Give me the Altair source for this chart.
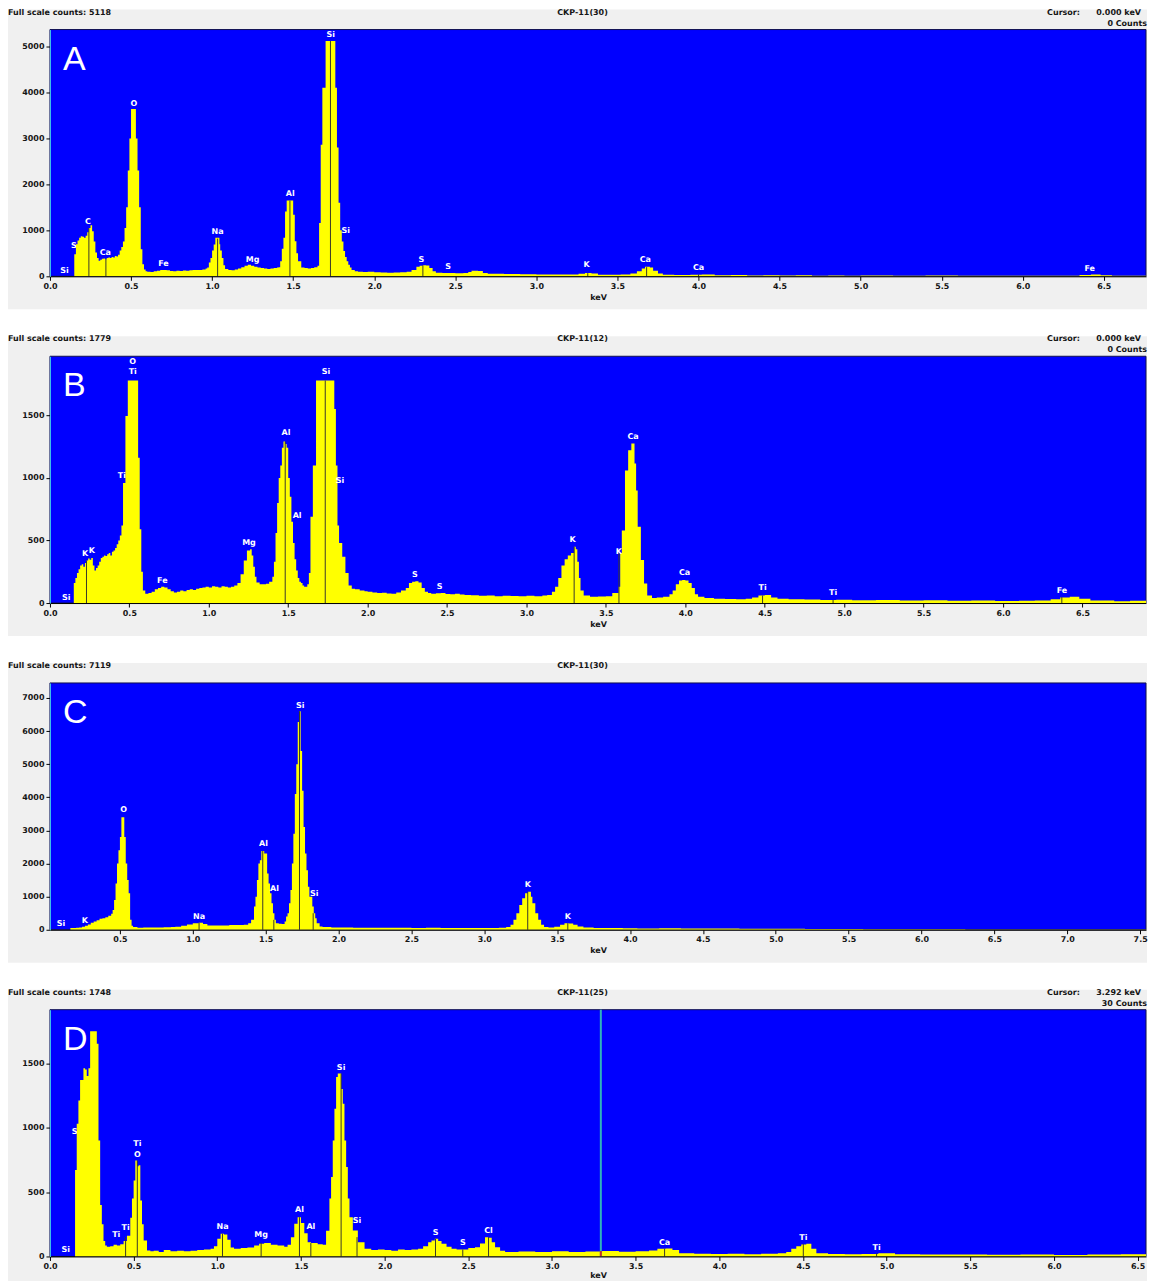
import altair as alt
import pandas as pd

W = 1097
H = 247

# ---------------- Panel A ----------------
SPEC_A = [(0.00, 0), (0.15, 480), (0.16, 700), (0.17, 780), (0.18, 840), (0.19, 870), (0.20, 860),
          (0.21, 840), (0.22, 880), (0.23, 960), (0.24, 1050), (0.25, 1110), (0.26, 980), (0.27, 760),
          (0.28, 520), (0.29, 400), (0.30, 340), (0.31, 360), (0.32, 380), (0.33, 390), (0.34, 370),
          (0.35, 400), (0.36, 410), (0.37, 400), (0.38, 420), (0.39, 410), (0.40, 440), (0.41, 430),
          (0.42, 470), (0.43, 560), (0.44, 640), (0.45, 760), (0.46, 1050), (0.47, 1500), (0.48, 2300),
          (0.49, 3000), (0.50, 3640), (0.53, 3000), (0.54, 2300), (0.55, 1500), (0.56, 590), (0.57, 260),
          (0.58, 150), (0.59, 110), (0.60, 100), (0.62, 95), (0.64, 110), (0.66, 120), (0.68, 135),
          (0.70, 140), (0.72, 130), (0.74, 115), (0.76, 110), (0.78, 120), (0.80, 115), (0.82, 125),
          (0.84, 120), (0.86, 130), (0.88, 135), (0.90, 140), (0.92, 135), (0.94, 150), (0.96, 170),
          (0.97, 190), (0.98, 300), (0.99, 400), (1.00, 560), (1.01, 690), (1.02, 840), (1.045, 700),
          (1.05, 560), (1.06, 400), (1.07, 240), (1.08, 160), (1.10, 140), (1.12, 130), (1.14, 150),
          (1.16, 170), (1.18, 200), (1.20, 230), (1.22, 250), (1.24, 230), (1.26, 210), (1.28, 190),
          (1.30, 180), (1.32, 170), (1.34, 160), (1.36, 170), (1.38, 180), (1.40, 190), (1.41, 200),
          (1.42, 330), (1.43, 600), (1.44, 840), (1.45, 1410), (1.46, 1650), (1.50, 1340), (1.51, 765),
          (1.52, 500), (1.53, 330), (1.55, 190), (1.57, 180), (1.59, 170), (1.61, 180), (1.63, 200),
          (1.65, 230), (1.66, 1160), (1.67, 2860), (1.68, 4100), (1.70, 5118), (1.76, 4100), (1.77, 2800),
          (1.78, 1600), (1.79, 1000), (1.80, 760), (1.81, 550), (1.82, 420), (1.83, 330), (1.84, 250),
          (1.85, 190), (1.86, 140), (1.88, 110), (1.90, 100), (1.93, 95), (1.96, 100), (2.00, 90),
          (2.04, 85), (2.08, 80), (2.12, 85), (2.16, 90), (2.20, 100), (2.23, 140), (2.26, 210),
          (2.28, 230), (2.30, 240), (2.32, 235), (2.34, 180), (2.36, 110), (2.38, 80), (2.42, 70),
          (2.46, 75), (2.50, 65), (2.55, 70), (2.58, 95), (2.60, 120), (2.64, 115), (2.67, 75),
          (2.70, 55), (2.80, 50), (2.90, 45), (3.00, 40), (3.10, 42), (3.20, 40), (3.26, 55),
          (3.30, 70), (3.34, 60), (3.38, 35), (3.45, 35), (3.52, 40), (3.58, 60), (3.62, 110),
          (3.65, 170), (3.67, 210), (3.70, 190), (3.72, 120), (3.75, 60), (3.78, 35), (3.85, 30),
          (3.95, 35), (4.02, 40), (4.10, 25), (4.20, 30), (4.30, 20), (4.40, 25), (4.50, 20),
          (4.60, 25), (4.70, 15), (4.80, 20), (4.90, 15), (5.00, 20), (5.20, 15), (5.40, 18),
          (5.60, 15), (5.80, 12), (6.00, 15), (6.20, 12), (6.35, 30), (6.42, 40), (6.48, 25),
          (6.55, 12), (6.76, 12)]
LABELS_A = [("Si", 0.09, 115), ("S", 0.148, 657), ("C", 0.234, 1183), ("Ca", 0.341, 498),
            ("O", 0.518, 3759), ("Fe", 0.70, 260), ("Na", 1.034, 967), ("Mg", 1.25, 361),
            ("Al", 1.482, 1789), ("Si", 1.732, 5260), ("Si", 1.825, 996), ("S", 2.29, 354),
            ("S", 2.455, 209), ("K", 3.31, 245), ("Ca", 3.672, 361), ("Ca", 4.0, 188), ("Fe", 6.413, 166)]
MARKERS_A = [(0.24, 1050), (0.345, 380), (1.034, 820), (1.48, 1650), (1.73, 5118), (2.30, 240),
             (3.317, 70), (3.68, 200), (4.0, 40)]
XTICKS_A = [0.0, 0.5, 1.0, 1.5, 2.0, 2.5, 3.0, 3.5, 4.0, 4.5, 5.0, 5.5, 6.0, 6.5]
YTICKS_A = [0, 1000, 2000, 3000, 4000, 5000]
XDOM_A = [0.0, 6.76]
YDOM_A = [0, 5368]
HEADER_A = ["Full scale counts: 5118", "CKP-11(30)", "Cursor:", "0.000 keV", "0 Counts"]

# ---------------- Panel B ----------------
SPEC_B = [(0.00, 0), (0.15, 160), (0.16, 200), (0.17, 240), (0.18, 270), (0.19, 300), (0.20, 310),
          (0.21, 290), (0.22, 320), (0.23, 340), (0.24, 355), (0.25, 345), (0.26, 360), (0.27, 300),
          (0.28, 260), (0.29, 280), (0.30, 300), (0.31, 330), (0.32, 360), (0.33, 370), (0.34, 380),
          (0.35, 375), (0.36, 390), (0.37, 400), (0.38, 380), (0.39, 410), (0.40, 420), (0.41, 440),
          (0.42, 470), (0.43, 500), (0.44, 540), (0.45, 620), (0.46, 960), (0.475, 1495), (0.49, 1779),
          (0.555, 1160), (0.565, 590), (0.575, 250), (0.585, 100), (0.60, 75), (0.62, 80), (0.64, 90),
          (0.66, 110), (0.68, 120), (0.70, 130), (0.72, 125), (0.74, 110), (0.76, 95), (0.78, 85),
          (0.80, 90), (0.82, 100), (0.84, 95), (0.86, 105), (0.88, 110), (0.90, 105), (0.92, 115),
          (0.94, 120), (0.96, 125), (0.98, 130), (1.00, 125), (1.02, 135), (1.04, 130), (1.06, 125),
          (1.08, 135), (1.10, 130), (1.12, 125), (1.14, 130), (1.16, 140), (1.18, 160), (1.20, 230),
          (1.22, 340), (1.24, 420), (1.26, 430), (1.27, 380), (1.28, 290), (1.29, 210), (1.30, 165),
          (1.32, 150), (1.34, 150), (1.36, 155), (1.38, 170), (1.40, 210), (1.41, 330), (1.42, 560),
          (1.43, 800), (1.44, 1000), (1.45, 1100), (1.46, 1240), (1.47, 1290), (1.48, 1270),
          (1.49, 1240), (1.50, 1000), (1.51, 850), (1.52, 650), (1.53, 480), (1.54, 350), (1.55, 260),
          (1.56, 200), (1.57, 170), (1.58, 160), (1.59, 140), (1.60, 130), (1.62, 150), (1.63, 240),
          (1.64, 690), (1.655, 1100), (1.675, 1779), (1.79, 1550), (1.80, 1100), (1.81, 620),
          (1.82, 480), (1.84, 370), (1.86, 240), (1.88, 140), (1.90, 115), (1.92, 110), (1.95, 100),
          (1.98, 95), (2.00, 90), (2.03, 85), (2.06, 80), (2.09, 82), (2.12, 76), (2.15, 75),
          (2.18, 85), (2.21, 100), (2.24, 120), (2.26, 160), (2.28, 170), (2.30, 175), (2.32, 165),
          (2.34, 120), (2.36, 90), (2.38, 80), (2.40, 75), (2.43, 78), (2.46, 80), (2.49, 72),
          (2.52, 70), (2.55, 75), (2.58, 68), (2.61, 65), (2.65, 62), (2.70, 58), (2.75, 60),
          (2.80, 55), (2.85, 58), (2.90, 57), (2.95, 55), (3.00, 58), (3.05, 55), (3.10, 60),
          (3.13, 65), (3.16, 90), (3.18, 130), (3.20, 200), (3.22, 300), (3.24, 350), (3.26, 380),
          (3.28, 400), (3.30, 450), (3.31, 430), (3.32, 330), (3.33, 200), (3.34, 100), (3.36, 60),
          (3.40, 50), (3.45, 52), (3.50, 55), (3.54, 80), (3.58, 130), (3.59, 400), (3.60, 580),
          (3.62, 1060), (3.64, 1220), (3.66, 1275), (3.68, 1115), (3.69, 900), (3.70, 610),
          (3.72, 343), (3.74, 157), (3.76, 60), (3.79, 40), (3.82, 45), (3.86, 50), (3.90, 70),
          (3.92, 100), (3.94, 150), (3.96, 180), (3.98, 185), (4.00, 180), (4.02, 160), (4.04, 120),
          (4.06, 70), (4.08, 50), (4.12, 40), (4.18, 35), (4.25, 33), (4.32, 30), (4.38, 35),
          (4.42, 45), (4.46, 60), (4.50, 65), (4.54, 45), (4.58, 35), (4.65, 30), (4.75, 28),
          (4.85, 25), (4.95, 27), (5.05, 22), (5.20, 25), (5.35, 20), (5.50, 22), (5.65, 18),
          (5.80, 20), (5.95, 16), (6.10, 18), (6.20, 20), (6.30, 30), (6.36, 45), (6.42, 50),
          (6.48, 35), (6.55, 20), (6.70, 15), (6.80, 18), (6.90, 14)]
LABELS_B = [("Si", 0.102, 37), ("K", 0.221, 394), ("K", 0.263, 412), ("Ti", 0.453, 1019),
            ("O", 0.521, 1929), ("Ti", 0.521, 1843), ("Fe", 0.707, 178), ("Mg", 1.253, 479),
            ("Al", 1.486, 1357), ("Al", 1.556, 692), ("Si", 1.737, 1843), ("Si", 1.826, 976),
            ("S", 2.298, 221), ("S", 2.453, 125), ("K", 3.29, 500), ("K", 3.582, 410),
            ("Ca", 3.671, 1327), ("Ca", 3.995, 237), ("Ti", 4.486, 117), ("Ti", 4.93, 77),
            ("Fe", 6.371, 98)]
MARKERS_B = [(0.23, 340), (1.481, 1290), (1.733, 1779), (3.30, 450), (3.582, 400), (4.486, 60),
             (4.93, 25), (6.37, 48)]
XTICKS_B = [0.0, 0.5, 1.0, 1.5, 2.0, 2.5, 3.0, 3.5, 4.0, 4.5, 5.0, 5.5, 6.0, 6.5]
YTICKS_B = [0, 500, 1000, 1500]
XDOM_B = [0.0, 6.90]
YDOM_B = [0, 1972]
HEADER_B = ["Full scale counts: 1779", "CKP-11(12)", "Cursor:", "0.000 keV", "0 Counts"]

# ---------------- Panel C ----------------
SPEC_C = [(0.02, 0), (0.16, 50), (0.18, 55), (0.20, 60), (0.22, 70), (0.24, 90), (0.26, 120),
          (0.28, 160), (0.30, 210), (0.32, 250), (0.34, 290), (0.36, 330), (0.38, 350), (0.40, 380),
          (0.42, 420), (0.44, 480), (0.45, 600), (0.46, 900), (0.47, 1400), (0.48, 2000), (0.49, 2400),
          (0.50, 2800), (0.51, 3400), (0.53, 2800), (0.54, 2000), (0.55, 1500), (0.56, 1100),
          (0.57, 300), (0.58, 120), (0.59, 80), (0.62, 60), (0.66, 65), (0.70, 70), (0.75, 68),
          (0.80, 75), (0.85, 80), (0.88, 90), (0.92, 120), (0.96, 160), (1.00, 200), (1.04, 210),
          (1.07, 170), (1.10, 130), (1.15, 125), (1.20, 130), (1.25, 140), (1.30, 145), (1.35, 150),
          (1.38, 200), (1.40, 300), (1.42, 700), (1.43, 1000), (1.44, 1500), (1.45, 2000),
          (1.46, 2100), (1.47, 2380), (1.49, 2300), (1.51, 1700), (1.52, 1400), (1.53, 1100),
          (1.54, 800), (1.55, 500), (1.56, 300), (1.57, 200), (1.59, 180), (1.61, 170), (1.63, 250),
          (1.64, 400), (1.65, 500), (1.66, 800), (1.67, 1200), (1.68, 2000), (1.69, 2900),
          (1.70, 4100), (1.71, 5000), (1.72, 6270), (1.73, 6600), (1.74, 5400), (1.75, 4200),
          (1.76, 3100), (1.77, 2300), (1.78, 1800), (1.79, 1300), (1.80, 1000), (1.82, 700),
          (1.83, 500), (1.84, 350), (1.85, 200), (1.87, 100), (1.89, 80), (1.95, 70), (2.00, 65),
          (2.10, 60), (2.20, 62), (2.30, 58), (2.40, 60), (2.50, 55), (2.60, 58), (2.70, 55),
          (2.80, 52), (2.90, 55), (3.00, 50), (3.10, 60), (3.15, 80), (3.18, 150), (3.20, 300),
          (3.22, 500), (3.24, 750), (3.26, 950), (3.28, 1100), (3.30, 1150), (3.32, 1000),
          (3.33, 800), (3.35, 500), (3.37, 300), (3.39, 150), (3.41, 80), (3.44, 70), (3.48, 90),
          (3.52, 150), (3.55, 200), (3.58, 190), (3.61, 150), (3.64, 100), (3.68, 70), (3.75, 55),
          (3.85, 50), (3.95, 45), (4.05, 40), (4.20, 45), (4.35, 35), (4.45, 40), (4.60, 35),
          (4.75, 30), (4.90, 32), (5.05, 28), (5.20, 25), (5.40, 22), (5.60, 18), (5.80, 15),
          (6.00, 12), (6.30, 10), (6.60, 8), (7.00, 6), (7.54, 5)]
LABELS_C = [("Si", 0.096, 170), ("K", 0.26, 271), ("O", 0.525, 3611), ("Na", 1.043, 371),
            ("Al", 1.485, 2578), ("Al", 1.56, 1233), ("Si", 1.737, 6750), ("Si", 1.833, 1073),
            ("K", 3.298, 1344), ("K", 3.573, 371)]
MARKERS_C = [(1.043, 210), (1.48, 2380), (1.556, 300), (1.732, 6600), (1.826, 500), (3.298, 1150),
             (3.573, 200)]
XTICKS_C = [0.5, 1.0, 1.5, 2.0, 2.5, 3.0, 3.5, 4.0, 4.5, 5.0, 5.5, 6.0, 6.5, 7.0, 7.5]
YTICKS_C = [0, 1000, 2000, 3000, 4000, 5000, 6000, 7000]
XDOM_C = [0.02, 7.54]
YDOM_C = [0, 7451]
HEADER_C = ["Full scale counts: 7119", "CKP-11(30)", "", "", ""]

# ---------------- Panel D ----------------
SPEC_D = [(0.00, 0), (0.15, 670), (0.16, 1030), (0.17, 1210), (0.18, 1370), (0.20, 1460),
          (0.21, 1450), (0.22, 1400), (0.23, 1460), (0.24, 1748), (0.28, 1650), (0.29, 900),
          (0.30, 400), (0.31, 250), (0.32, 120), (0.33, 85), (0.34, 75), (0.36, 80), (0.38, 90),
          (0.40, 85), (0.42, 95), (0.44, 120), (0.46, 160), (0.48, 300), (0.49, 450), (0.50, 590),
          (0.51, 745), (0.52, 700), (0.53, 707), (0.54, 435), (0.55, 250), (0.56, 124), (0.58, 47),
          (0.60, 40), (0.62, 45), (0.65, 35), (0.68, 50), (0.72, 40), (0.76, 45), (0.80, 40),
          (0.84, 45), (0.88, 50), (0.92, 55), (0.96, 60), (0.98, 80), (1.00, 137), (1.02, 176),
          (1.04, 170), (1.06, 130), (1.08, 70), (1.10, 60), (1.14, 65), (1.18, 70), (1.22, 85),
          (1.25, 98), (1.28, 105), (1.32, 90), (1.36, 85), (1.40, 75), (1.42, 90), (1.44, 150),
          (1.46, 254), (1.48, 305), (1.50, 260), (1.52, 180), (1.54, 110), (1.56, 104), (1.60, 95),
          (1.63, 90), (1.65, 200), (1.67, 450), (1.68, 616), (1.69, 900), (1.70, 1147), (1.71, 1393),
          (1.72, 1420), (1.74, 1300), (1.75, 1186), (1.76, 900), (1.77, 694), (1.78, 450),
          (1.79, 305), (1.81, 202), (1.84, 111), (1.88, 60), (1.92, 50), (1.96, 55), (2.00, 50),
          (2.04, 45), (2.08, 55), (2.12, 50), (2.16, 55), (2.20, 60), (2.23, 80), (2.26, 110),
          (2.28, 124), (2.30, 137), (2.32, 120), (2.34, 98), (2.37, 75), (2.40, 60), (2.43, 55),
          (2.46, 54), (2.50, 65), (2.54, 72), (2.57, 100), (2.60, 150), (2.62, 145), (2.64, 110),
          (2.66, 72), (2.69, 45), (2.72, 35), (2.80, 38), (2.90, 34), (3.00, 40), (3.10, 35),
          (3.20, 38), (3.30, 42), (3.40, 36), (3.50, 40), (3.58, 47), (3.63, 60), (3.68, 62),
          (3.72, 50), (3.76, 25), (3.85, 22), (3.95, 20), (4.05, 22), (4.15, 18), (4.25, 22),
          (4.35, 25), (4.40, 34), (4.43, 60), (4.46, 80), (4.49, 93), (4.52, 98), (4.55, 60),
          (4.58, 25), (4.65, 20), (4.75, 18), (4.85, 20), (4.95, 25), (5.05, 18), (5.20, 15),
          (5.40, 16), (5.60, 14), (5.80, 15), (6.00, 12), (6.20, 15), (6.40, 18), (6.55, 14)]
LABELS_D = [("Si", 0.095, 47), ("S", 0.148, 966), ("Ti", 0.396, 163), ("Ti", 0.452, 220),
            ("Ti", 0.522, 870), ("O", 0.522, 790), ("Na", 1.031, 228), ("Mg", 1.262, 163),
            ("Al", 1.491, 357), ("Al", 1.559, 228), ("Si", 1.74, 1463), ("Si", 1.835, 272),
            ("S", 2.304, 181), ("S", 2.467, 106), ("Cl", 2.621, 194), ("Ca", 3.673, 106),
            ("Ti", 4.502, 142), ("Ti", 4.94, 65)]
MARKERS_D = [(0.452, 150), (0.522, 745), (1.031, 176), (1.262, 105), (1.491, 305), (1.559, 104),
             (1.74, 1420), (1.835, 150), (2.304, 137), (2.467, 54), (2.621, 150), (3.673, 60),
             (4.502, 98), (4.94, 25)]
XTICKS_D = [0.0, 0.5, 1.0, 1.5, 2.0, 2.5, 3.0, 3.5, 4.0, 4.5, 5.0, 5.5, 6.0, 6.5]
YTICKS_D = [0, 500, 1000, 1500]
XDOM_D = [0.0, 6.55]
YDOM_D = [0, 1915]
HEADER_D = ["Full scale counts: 1748", "CKP-11(25)", "Cursor:", "3.292 keV", "30 Counts"]
CURSOR_D = [3.292, 42]

FONT = "DejaVu Sans"
INK = "#151515"


def text_layer(txt, px, py, align, size=8, weight="bold", color=INK, font=FONT, baseline="middle"):
    one = pd.DataFrame({"k": [0]})
    return alt.Chart(one).mark_text(
        align=align, baseline=baseline, fontSize=size, fontWeight=weight, color=color, font=font
    ).encode(x=alt.value(px), y=alt.value(py), text=alt.value(txt))


def panel(spec, labels, markers, xticks, yticks, xdom, ydom, header, letter, cursor=None,
          title_pad=3, bottom_ext=33):
    sdf = pd.DataFrame(spec, columns=["keV", "counts"])
    ldf = pd.DataFrame(labels, columns=["el", "keV", "counts"])
    mdf = pd.DataFrame(markers, columns=["keV", "counts"])
    one = pd.DataFrame({"k": [0]})

    xax = alt.Axis(values=xticks, format=".1f", title="keV", grid=False, zindex=1,
                   labelFont=FONT, labelFontSize=8, labelFontWeight="bold", labelColor=INK,
                   titleFont=FONT, titleFontSize=8, titleFontWeight="bold", titleColor=INK,
                   domainColor="#000000", tickColor="#000000", tickSize=4, labelPadding=2,
                   titlePadding=title_pad, labelFlush=False, labelOverlap=False)
    yax = alt.Axis(values=yticks, format="d", title=None, grid=False, zindex=1,
                   labelFont=FONT, labelFontSize=8, labelFontWeight="bold", labelColor=INK,
                   domainColor="#3fc8f0", tickColor="#000000", tickSize=4, labelPadding=2,
                   labelFlush=False, labelOverlap=False)
    xs = alt.Scale(domain=xdom, nice=False, zero=False)
    ys = alt.Scale(domain=ydom, nice=False, zero=False)
    X = alt.X("keV:Q", scale=xs, axis=xax)
    Y = alt.Y("counts:Q", scale=ys, axis=yax)

    bg = alt.Chart(one).mark_rect(color="#f0f0f0").encode(
        x=alt.value(-42), x2=alt.value(W + 1), y=alt.value(-20), y2=alt.value(H + bottom_ext))
    plot_bg = alt.Chart(one).mark_rect(fill="#0000ff", stroke="#101050", strokeWidth=1).encode(
        x=alt.value(0), x2=alt.value(W), y=alt.value(0), y2=alt.value(H))
    area = alt.Chart(sdf).mark_area(interpolate="step-after", color="#ffff00", opacity=1).encode(x=X, y=Y)
    rules = alt.Chart(mdf).mark_rule(color="#3a3a2a", strokeWidth=1).encode(x=X, y=Y, y2=alt.datum(0))
    lab = alt.Chart(ldf).mark_text(color="white", font=FONT, fontSize=8, fontWeight="bold",
                                   baseline="middle", align="center").encode(x=X, y=Y, text="el:N")
    big = text_layer(letter, 13, 40, "left", size=34, weight="normal", color="white",
                     font="Liberation Sans", baseline="alphabetic")

    layers = [bg, plot_bg, area, rules]
    if cursor is not None:
        cdf = pd.DataFrame({"keV": [cursor[0]], "counts": [cursor[1]]})
        cur = alt.Chart(cdf).mark_rule(color="#2fb3bd", strokeWidth=2).encode(
            x=X, y=alt.value(0), y2=alt.value(H))
        cur_red = alt.Chart(cdf).mark_rule(color="#d03020", strokeWidth=2).encode(
            x=X, y=Y, y2=alt.datum(0))
        layers += [cur, cur_red]
    layers += [lab, big]
    layers += [text_layer(header[0], -42, -17, "left"),
               text_layer(header[1], 533, -17, "center")]
    if header[2]:
        layers += [text_layer(header[2], 998, -17, "left"),
                   text_layer(header[3], 1092, -17, "right"),
                   text_layer(header[4], W + 1, -6, "right")]
    return alt.layer(*layers).properties(width=W, height=H)


pA = panel(SPEC_A, LABELS_A, MARKERS_A, XTICKS_A, YTICKS_A, XDOM_A, YDOM_A, HEADER_A, "A")
pB = panel(SPEC_B, LABELS_B, MARKERS_B, XTICKS_B, YTICKS_B, XDOM_B, YDOM_B, HEADER_B, "B")
pC = panel(SPEC_C, LABELS_C, MARKERS_C, XTICKS_C, YTICKS_C, XDOM_C, YDOM_C, HEADER_C, "C")
pD = panel(SPEC_D, LABELS_D, MARKERS_D, XTICKS_D, YTICKS_D, XDOM_D, YDOM_D, HEADER_D, "D",
           cursor=CURSOR_D, title_pad=1, bottom_ext=28)

chart = alt.vconcat(pA, pB, pC, pD, spacing=26).properties(
    padding=0, background="white"
).configure_view(stroke=None)

chart.save("out.html", embed_options={"renderer": "svg", "actions": False})
